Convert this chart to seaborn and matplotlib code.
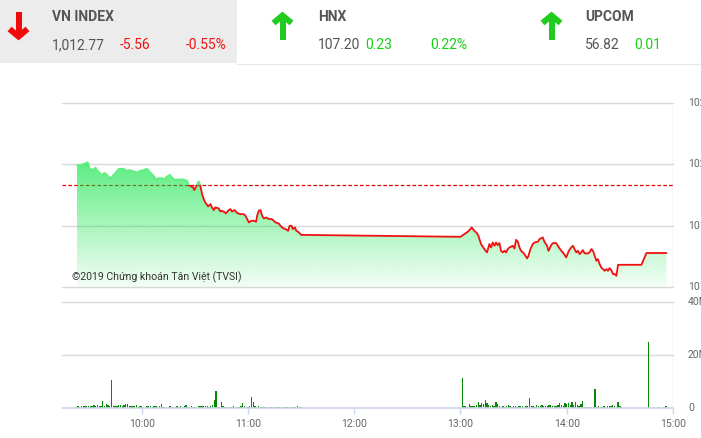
import numpy as np
import pandas as pd
import matplotlib
matplotlib.use("Agg")
import matplotlib.pyplot as plt
import seaborn as sns
from matplotlib.patches import Rectangle, Polygon
from matplotlib.lines import Line2D

# ---------------- data ----------------
header_names = ["VN INDEX", "HNX", "UPCOM"]
header_values = ["1,012.77", "107.20", "56.82"]
header_changes = ["-5.56", "0.23", "0.01"]
header_pcts = ["-0.55%", "0.22%", ""]

ref_price = 1018.33
price_ticks = [1010, 1015, 1020, 1025]
price_tick_labels = ["1010", "1015", "1020", "1025"]
vol_ticks = [0, 20, 40]
vol_tick_labels = ["0", "20M", "40M"]
time_ticks = [60, 120, 180, 240, 300, 360]   # minutes after 9:00
time_tick_labels = ["10:00", "11:00", "12:00", "13:00", "14:00", "15:00"]

# price series: minutes after 9:00, index level
price_t = [23.3, 24.2, 27.1, 29.3, 29.9, 30.8, 31.8, 33.1, 33.9, 34.6,
           36.1, 37.5, 38.4, 39.3, 40.3, 42.2, 43.7, 45.0, 46.9, 49.7,
           51.6, 53.5, 55.4, 57.3, 59.2, 61.0, 62.9, 64.8, 66.7, 68.2,
           69.5, 71.4, 72.7, 74.2, 75.8, 77.1, 78.4, 80.8, 83.7, 85.6,
           86.5, 89.0, 89.7, 90.8, 92.2, 93.1, 94.1, 95.0, 95.9, 97.5,
           98.8, 99.7, 100.7, 101.6, 103.5, 104.4, 105.4, 106.9, 107.6, 108.8,
           110.1, 111.0, 112.5, 113.9, 115.8, 117.6, 118.6, 119.5, 120.5, 122.0,
           123.3, 124.6, 125.2, 126.1, 127.1, 128.0, 129.0, 130.3, 131.8, 133.3,
           134.6, 135.6, 137.4, 138.4, 139.7, 141.2, 142.7, 143.5, 144.6, 145.4,
           146.5, 147.3, 148.8, 150.0,
           240.0, 242.2, 244.1, 245.6, 246.3, 247.8, 249.3, 250.1, 251.6, 253.5,
           255.0, 256.3, 257.3, 258.2, 259.2, 260.1, 261.0, 262.0, 262.9, 263.9,
           264.8, 265.8, 266.7, 267.6, 269.5, 270.5, 271.4, 272.4, 273.3, 274.2,
           275.2, 276.1, 277.6, 278.4, 279.5, 280.8, 281.8, 283.7, 284.6, 286.5,
           287.4, 288.9, 289.7, 290.2, 291.2, 292.2, 294.0, 295.0, 296.5, 297.8,
           299.7, 301.2, 302.5, 303.5, 304.4, 305.4, 306.3, 307.3, 308.2, 309.1,
           310.1, 312.0, 312.9, 313.9, 314.8, 315.8, 316.7, 317.6, 318.6, 319.5,
           320.5, 321.4, 322.4, 323.3, 324.2, 325.2, 326.1, 327.1, 328.0, 329.0,
           342.2, 345.0, 356.3]
price_v = [1019.94, 1019.92, 1020.02, 1020.16, 1020.08, 1019.53, 1019.62, 1019.53, 1019.75, 1019.53,
           1019.34, 1019.07, 1019.26, 1019.29, 1019.15, 1018.86, 1019.07, 1019.26, 1019.62, 1019.64,
           1019.48, 1019.53, 1019.43, 1019.34, 1019.48, 1019.53, 1019.64, 1019.34, 1019.07, 1018.75,
           1018.88, 1018.88, 1018.77, 1018.99, 1019.15, 1018.94, 1018.75, 1018.77, 1018.75, 1018.67,
           1018.31, 1018.12, 1017.90, 1018.23, 1018.61, 1018.26, 1017.58, 1017.17, 1016.90, 1016.57,
           1016.76, 1016.49, 1016.27, 1016.49, 1016.41, 1016.16, 1016.22, 1016.08, 1016.00, 1016.22,
           1016.35, 1016.16, 1016.27, 1016.03, 1015.94, 1015.94, 1015.81, 1015.54, 1015.26, 1015.40,
           1015.40, 1015.32, 1015.81, 1016.22, 1016.27, 1015.81, 1015.59, 1015.67, 1015.54, 1015.54,
           1015.40, 1015.26, 1015.18, 1014.99, 1014.80, 1014.72, 1014.58, 1014.99, 1014.99, 1014.72,
           1014.86, 1014.58, 1014.45, 1014.25,
           1014.09, 1014.31, 1014.50, 1014.72, 1014.86, 1014.58, 1014.39, 1014.18, 1013.50, 1013.09,
           1012.82, 1013.50, 1013.22, 1013.63, 1013.36, 1013.63, 1013.41, 1013.58, 1012.95, 1012.82,
           1012.95, 1012.82, 1013.09, 1013.22, 1013.36, 1013.14, 1013.85, 1013.69, 1013.22, 1012.95,
           1012.82, 1012.68, 1012.33, 1012.54, 1013.09, 1013.50, 1013.63, 1013.69, 1013.90, 1014.04,
           1013.69, 1013.36, 1012.95, 1013.09, 1013.41, 1013.58, 1013.58, 1013.36, 1013.03, 1012.82,
           1012.41, 1012.95, 1013.22, 1013.36, 1013.09, 1012.82, 1012.95, 1012.68, 1012.82, 1013.01,
           1012.74, 1012.74, 1012.82, 1013.09, 1012.95, 1012.54, 1012.14, 1012.27, 1011.86, 1011.59,
           1011.46, 1011.32, 1011.46, 1011.32, 1011.54, 1011.37, 1011.05, 1011.05, 1010.91, 1011.81,
           1011.81, 1012.77, 1012.77]

# volume (millions of shares) per minute
vol_morning_start = 23
vol_morning = [0.5, 0.6, 0.5, 0.7, 0.8, 0.7, 0.6, 0.9, 0.8, 0.6,
               1.0, 0.9, 1.1, 0.7, 0.6, 2.8, 0.7, 1.6, 1.3, 0.8,
               10.7, 0.6, 0.6, 0.7, 1.0, 1.1, 0.9, 1.3, 1.6, 1.5,
               0.6, 0.7, 0.6, 0.8, 1.1, 0.5, 0.6, 0.7, 0.5, 0.4,
               0.8, 0.6, 0.7, 0.5, 0.9, 0.6, 0.4, 0.7, 1.5, 0.4,
               0.3, 0.5, 0.4, 0.6, 0.4, 0.5, 0.3, 0.6, 0.4, 0.7,
               0.5, 0.6, 1.0, 0.5, 0.4, 0.6, 0.3, 0.5, 0.4, 0.6,
               0.7, 0.9, 0.8, 0.9, 0.6, 0.5, 0.8, 1.0, 2.9, 6.3,
               0.5, 0.3, 2.4, 0.6, 0.3, 0.5, 0.4, 0.3, 0.5, 0.6,
               0.4, 0.3, 0.5, 0.7, 1.8, 0.6, 0.5, 0.4, 0.7, 4.0,
               2.4, 0.9, 0.5, 0.6, 0.4, 0.5, 0.3, 0.4, 0.3, 0.4,
               0.3, 0.5, 0.3, 0.2, 0.4, 0.3, 0.3, 0.2, 0.3, 0.4,
               0.3, 0.3, 0.2, 0.3, 0.3, 0.9, 0.4, 0.3]
vol_afternoon_start = 240
vol_afternoon = [0.0, 11.3, 0.9, 0.6, 0.4, 1.6, 0.7, 0.9, 0.8, 1.0,
                 2.3, 1.2, 1.9, 1.5, 3.1, 2.0, 1.0, 0.8, 1.1, 0.9,
                 2.1, 1.6, 0.8, 0.5, 0.9, 0.4, 0.6, 1.0, 0.7, 0.5,
                 0.6, 0.8, 0.5, 0.7, 0.9, 0.6, 0.5, 0.7, 0.8, 3.9,
                 0.9, 0.7, 0.5, 1.0, 0.6, 0.8, 1.3, 0.7, 0.9, 0.6,
                 1.2, 1.3, 0.9, 0.7, 0.6, 1.3, 1.7, 1.2, 0.8, 1.9,
                 1.4, 2.0, 1.0, 2.4, 1.2, 2.2, 1.0, 0.9, 1.5, 2.8,
                 0.3, 0.2, 0.3, 0.3, 0.5, 0.4, 7.3, 0.5, 0.7, 0.3,
                 0.4, 0.6, 0.5, 0.6, 0.8, 0.9, 1.0, 0.7, 0.5, 2.1,
                 0.9, 0.3]
vol_close_t = [342, 346, 349, 352, 355, 356]
vol_close = [0.15, 25.0, 0.2, 0.2, 0.3, 0.9]

watermark = "©2019 Chứng khoán Tân Việt (TVSI)"

# ---------------- style ----------------
sns.set_theme(style="white")
plt.rcParams["font.family"] = ["Roboto", "DejaVu Sans"]
plt.rcParams["lines.scale_dashes"] = False

W, H = 701, 438
fig = plt.figure(figsize=(W / 100, H / 100), dpi=100)
fig.patch.set_facecolor("white")

def fx(x):
    return x / W

def fy(y):
    return 1 - y / H

GRID = "#d9d9d9"
AXIS = "#ccd6eb"
LABEL = "#666666"
RED = "#f21111"
GREEN_TXT = "#16d016"

# ---------------- header ----------------
fig.add_artist(Rectangle((0, fy(63)), fx(237), 63 / H, transform=fig.transFigure,
                         facecolor="#ececec", edgecolor="none", zorder=0))
fig.add_artist(Line2D([fx(237), 1], [fy(63.5), fy(63.5)], transform=fig.transFigure,
                      color="#e6e6e6", lw=0.8))

def arrow(cx, top, bot, up, color):
    w = 9.0
    lw = 6 * 0.72
    if up:
        tip = top
        xs, ys = [cx - w, cx, cx + w], [tip + w, tip + 1.5, tip + w]
        shaft = ([cx, cx], [tip + 3, bot])
    else:
        tip = bot
        xs, ys = [cx - w, cx, cx + w], [tip - w, tip - 1.5, tip - w]
        shaft = ([cx, cx], [top, tip - 3])
    fig.add_artist(Line2D([fx(v) for v in shaft[0]], [fy(v) for v in shaft[1]],
                          transform=fig.transFigure, color=color, lw=lw, solid_capstyle="butt"))
    fig.add_artist(Line2D([fx(v) for v in xs], [fy(v) for v in ys], transform=fig.transFigure,
                          color=color, lw=lw, solid_capstyle="butt", solid_joinstyle="miter"))

arrow(18.5, 12, 38, False, "#f20a0a")
arrow(282.5, 14, 40, True, "#1fcc1f")
arrow(551.5, 14, 40, True, "#1fcc1f")

name_x = [52, 318, 585]
val_x = [52, 318, 585]
chg_x = [120, 365, 634]
pct_x = [186, 430, 700]
chg_col = [RED, GREEN_TXT, GREEN_TXT]
for i in range(3):
    fig.text(fx(name_x[i]), fy(17), header_names[i], fontsize=10, fontweight="bold",
             color="#555555", va="center", ha="left")
    fig.text(fx(val_x[i]), fy(45), header_values[i], fontsize=10, color="#555555",
             va="center", ha="left")
    fig.text(fx(chg_x[i]), fy(45), header_changes[i], fontsize=10, color=chg_col[i],
             va="center", ha="left")
    if header_pcts[i]:
        fig.text(fx(pct_x[i]), fy(45), header_pcts[i], fontsize=10, color=chg_col[i],
                 va="center", ha="left")

# ---------------- price chart ----------------
ax1 = fig.add_axes([fx(62), fy(287), (673 - 62) / W, (287 - 103) / H])
df = pd.DataFrame({"t": price_t, "p": price_v})

for v in price_ticks:
    ax1.axhline(v, color=GRID, lw=1, zorder=0.5, clip_on=False)
ax1.axhline(ref_price, color="#e00000", lw=0.9, ls=(0, (2.6, 1.6)), zorder=0.8)

# gradient fill under the curve (semi-transparent)
n = 256
alpha = np.linspace(0.05, 0.64, n)
img = np.zeros((n, 1, 4))
img[:, 0, 0] = 0 / 255
img[:, 0, 1] = 228 / 255
img[:, 0, 2] = 60 / 255
img[:, 0, 3] = alpha
top_val = max(price_v)
im = ax1.imshow(img, extent=[min(price_t), max(price_t), 1010, top_val], origin="lower",
                aspect="auto", zorder=1, interpolation="bilinear")
verts = [(price_t[0], 1010)] + list(zip(price_t, price_v)) + [(price_t[-1], 1010)]
clip_poly = Polygon(verts, closed=True, transform=ax1.transData)
im.set_clip_path(clip_poly)

sns.lineplot(data=df, x="t", y="p", ax=ax1, color="#62ee80", lw=1.3, estimator=None,
             sort=False, zorder=2)
green_line = ax1.lines[-1]
green_line.set_clip_path(Rectangle((0, ref_price), 400, 20, transform=ax1.transData))
sns.lineplot(data=df, x="t", y="p", ax=ax1, color=RED, lw=1.3, estimator=None,
             sort=False, zorder=3)
red_line = ax1.lines[-1]
red_line.set_clip_path(Rectangle((0, 1000), 400, ref_price - 1000, transform=ax1.transData))

ax1.axvline(360, color=AXIS, lw=1, zorder=0.5)
ax1.set_xlim(15, 360)
ax1.set_ylim(1010, 1025)
ax1.set_xticks([])
ax1.set_yticks([])
ax1.set_xlabel("")
ax1.set_ylabel("")
for sp in ax1.spines.values():
    sp.set_visible(False)
ax1.patch.set_alpha(0)

for v, lab in zip(price_ticks, price_tick_labels):
    ypix = 287 - (v - 1010) / 15 * 184
    fig.text(fx(688), fy(ypix), lab, fontsize=7.5, color=LABEL, va="center", ha="left")

fig.text(fx(72), fy(277), watermark, fontsize=7.6, color="#333333", va="center", ha="left")

# ---------------- volume chart ----------------
ax2 = fig.add_axes([fx(62), fy(408), (673 - 62) / W, (408 - 302) / H])
vol_t = (list(range(vol_morning_start, vol_morning_start + len(vol_morning)))
         + list(range(vol_afternoon_start, vol_afternoon_start + len(vol_afternoon)))
         + vol_close_t)
vol_v = vol_morning + vol_afternoon + vol_close
for v in [20, 40]:
    ax2.axhline(v, color=GRID, lw=1, zorder=0.5, clip_on=False)
ax2.bar(vol_t, vol_v, width=0.75, color="#078807", linewidth=0, zorder=2)
ax2.axhline(0, color=AXIS, lw=1.2, zorder=3, clip_on=False)
ax2.axvline(360, color=AXIS, lw=1, zorder=0.5)
ax2.set_xlim(15, 360)
ax2.set_ylim(0, 40)
ax2.set_yticks([])
ax2.set_xticks(time_ticks)
ax2.set_xticklabels(time_tick_labels)
ax2.tick_params(axis="x", direction="out", length=6 * 0.72, width=1, color=AXIS,
                labelcolor=LABEL, labelsize=7.5, pad=3.5, bottom=True)
for sp in ax2.spines.values():
    sp.set_visible(False)
ax2.patch.set_alpha(0)

for v, lab in zip(vol_ticks, vol_tick_labels):
    ypix = 408 - v / 40 * 106
    fig.text(fx(688), fy(ypix), lab, fontsize=7.5, color=LABEL, va="center", ha="left")

fig.savefig("out.png", dpi=100)
